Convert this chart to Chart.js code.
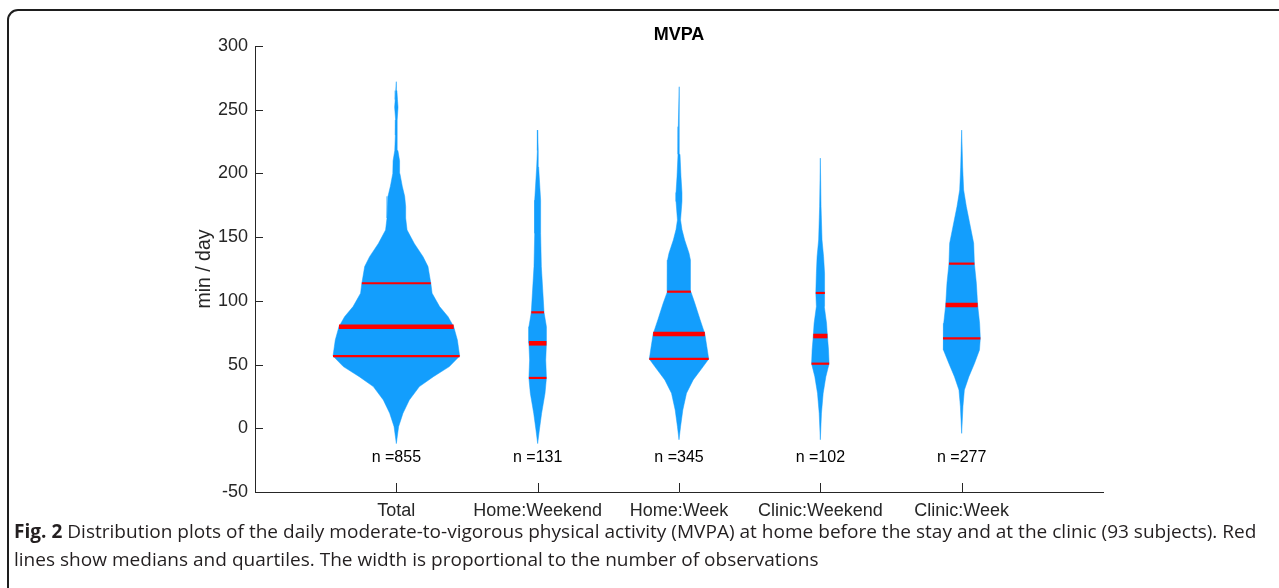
<!DOCTYPE html>
<html><head><meta charset="utf-8">
<script src="https://cdn.jsdelivr.net/npm/chart.js@4.4.1/dist/chart.umd.min.js"></script>
<style>
html,body{margin:0;padding:0;background:#fff;overflow:hidden;width:1279px;height:588px;}
#frame{position:absolute;left:7px;top:9px;width:1320px;height:640px;border:2px solid #1e1e1e;border-radius:11px;box-sizing:border-box;}
#c{position:absolute;left:0;top:0;}
#cap{position:absolute;left:14px;top:517px;font-family:'Open Sans';font-size:19px;line-height:28px;color:#231f20;white-space:nowrap;transform-origin:0 0;}
#cap b{font-weight:700;}
</style></head><body>
<div id="frame"></div>
<canvas id="c" width="1279" height="588"></canvas>
<div id="cap"><div id="l1"><b>Fig. 2</b> Distribution plots of the daily moderate-to-vigorous physical activity (MVPA) at home before the stay and at the clinic (93 subjects). Red</div><div>lines show medians and quartiles. The width is proportional to the number of observations</div></div>
<script>
// ---- data ----
const categories = ['Total', 'Home:Weekend', 'Home:Week', 'Clinic:Weekend', 'Clinic:Week'];
const counts = [855, 131, 345, 102, 277];
const chartTitle = 'MVPA';
const yAxisTitle = 'min / day';
const yTicks = [-50, 0, 50, 100, 150, 200, 250, 300];

// violin profiles: value levels (min/day) and half-widths (x-axis units)
const totalLevels = [-12, 1.3, 11.8, 22.2, 32.7, 40.5, 48.4, 56.7, 69.3, 79.7, 87.6, 95.5, 106, 113.8, 126.9, 134.7, 145, 155.6, 165, 174, 182, 190, 200, 210, 218, 230, 242, 252, 258, 265, 272];
const totalWidths = [0, 0.016, 0.047, 0.092, 0.163, 0.262, 0.375, 0.448, 0.432, 0.406, 0.366, 0.306, 0.253, 0.244, 0.224, 0.189, 0.127, 0.076, 0.066, 0.066, 0.059, 0.042, 0.025, 0.023, 0.011, 0.007, 0.005, 0.012, 0.008, 0.004, 0];

const homeWeekendLevels = [-12, -1.3, 11.8, 27.5, 39.5, 53.6, 66.7, 79.7, 91, 100.7, 126.9, 153, 179, 205, 218, 234];
const homeWeekendWidths = [0, 0.012, 0.028, 0.052, 0.062, 0.057, 0.062, 0.062, 0.045, 0.040, 0.026, 0.021, 0.021, 0.007, 0.004, 0];

const homeWeekLevels = [-9, 1.3, 14.4, 27.5, 37.9, 48.4, 54.4, 64, 74, 85, 98.1, 107.2, 119, 132, 137.4, 147.8, 156, 163.5, 178, 185, 197.5, 215, 236.7, 268];
const homeWeekWidths = [0, 0.011, 0.027, 0.053, 0.100, 0.171, 0.210, 0.197, 0.183, 0.150, 0.112, 0.084, 0.081, 0.081, 0.071, 0.040, 0.021, 0.011, 0.021, 0.021, 0.014, 0.007, 0.005, 0];

const clinicWeekendLevels = [-9, 11.8, 27.5, 40.5, 50.7, 61.5, 72.4, 82.4, 95.5, 106.2, 121.7, 134.7, 147.8, 174, 212];
const clinicWeekendWidths = [0, 0.008, 0.020, 0.039, 0.062, 0.058, 0.050, 0.044, 0.028, 0.032, 0.028, 0.023, 0.012, 0.005, 0];

const clinicWeekLevels = [-4, 17, 30, 40.5, 51, 61.5, 70.6, 82.4, 96.8, 113.8, 129.2, 145.2, 158, 174, 187, 205, 234];
const clinicWeekWidths = [0, 0.009, 0.019, 0.051, 0.091, 0.126, 0.132, 0.127, 0.113, 0.104, 0.090, 0.085, 0.062, 0.033, 0.014, 0.007, 0];

const lowerQuartiles = [56.7, 39.5, 54.4, 50.7, 70.6];
const medians = [79.7, 66.7, 74, 72.4, 96.8];
const upperQuartiles = [113.8, 91, 107.2, 106.2, 129.2];

// ---- build datasets ----
const profiles = [
  [totalLevels, totalWidths],
  [homeWeekendLevels, homeWeekendWidths],
  [homeWeekLevels, homeWeekWidths],
  [clinicWeekendLevels, clinicWeekendWidths],
  [clinicWeekLevels, clinicWeekWidths]
];
const BLUE = '#139efd', RED = '#ff0000', INK = '#262626';
const FONT = "'Liberation Sans', Arial, sans-serif";

function widthAt(levels, widths, v) {
  for (let i = 0; i < levels.length - 1; i++) {
    if (v >= levels[i] && v <= levels[i + 1]) {
      const t = (v - levels[i]) / (levels[i + 1] - levels[i]);
      return widths[i] + t * (widths[i + 1] - widths[i]);
    }
  }
  return 0;
}

const datasets = [];
profiles.forEach(([lv, w], i) => {
  const c = i + 1;
  const pts = [];
  for (let k = 0; k < lv.length; k++) pts.push({x: c + w[k], y: lv[k]});
  for (let k = lv.length - 1; k >= 0; k--) pts.push({x: c - w[k], y: lv[k]});
  datasets.push({
    label: categories[i], data: pts, showLine: true, fill: 'shape',
    backgroundColor: BLUE, borderColor: BLUE, borderWidth: 0.5,
    pointRadius: 0, pointHoverRadius: 0, tension: 0, order: 2
  });
});
profiles.forEach(([lv, w], i) => {
  const c = i + 1;
  [[lowerQuartiles[i], 2.2], [medians[i], 4.6], [upperQuartiles[i], 2.2]].forEach(([q, lw]) => {
    const hw = widthAt(lv, w, q);
    datasets.push({
      label: categories[i] + ' q', data: [{x: c - hw, y: q}, {x: c + hw, y: q}],
      showLine: true, fill: false, borderColor: RED, borderWidth: lw,
      pointRadius: 0, pointHoverRadius: 0, order: 1
    });
  });
});

const decorPlugin = {
  id: 'decor',
  afterDraw(chart) {
    const {ctx, scales: {x, y}, chartArea} = chart;
    ctx.save();
    ctx.strokeStyle = INK; ctx.lineWidth = 1;
    ctx.beginPath();
    yTicks.forEach(v => {
      const py = Math.round(y.getPixelForValue(v)) + 0.5;
      ctx.moveTo(chartArea.left, py); ctx.lineTo(chartArea.left + 8, py);
    });
    categories.forEach((_, i) => {
      const px = Math.round(x.getPixelForValue(i + 1)) + 0.5;
      ctx.moveTo(px, chartArea.bottom); ctx.lineTo(px, chartArea.bottom - 9);
    });
    ctx.stroke();
    ctx.fillStyle = '#000';
    ctx.font = "16px " + FONT;
    ctx.textAlign = 'center'; ctx.textBaseline = 'middle';
    counts.forEach((n, i) => {
      ctx.fillText('n =' + n, x.getPixelForValue(i + 1), y.getPixelForValue(-23));
    });
    ctx.fillStyle = '#000';
    ctx.font = "bold 18px " + FONT;
    ctx.fillText(chartTitle, (chartArea.left + chartArea.right) / 2, 35);
    ctx.restore();
  }
};

new Chart(document.getElementById('c'), {
  type: 'scatter',
  data: {datasets},
  options: {
    responsive: false, animation: false, devicePixelRatio: 1,
    layout: {padding: {left: 189, right: 176, top: 46, bottom: 0}},
    plugins: {legend: {display: false}, tooltip: {enabled: false}, title: {display: false}},
    scales: {
      x: {
        type: 'linear', min: 0, max: 6,
        afterBuildTicks: s => { s.ticks = categories.map((_, i) => ({value: i + 1})); },
        afterFit: s => { s.height = 96; },
        grid: {display: false, drawTicks: false},
        border: {display: true, color: INK, width: 1},
        ticks: {color: INK, font: {family: FONT, size: 18}, padding: 8, maxRotation: 0, autoSkip: false,
          callback: v => categories[v - 1] || ''}
      },
      y: {
        type: 'linear', min: -50, max: 300,
        afterBuildTicks: s => { s.ticks = yTicks.map(v => ({value: v})); },
        afterFit: s => { s.width = 66; },
        grid: {display: false, drawTicks: false},
        border: {display: true, color: INK, width: 1},
        ticks: {color: INK, font: {family: FONT, size: 18}, padding: 7},
        title: {display: true, text: yAxisTitle, color: INK, font: {family: FONT, size: 19.5}, padding: {top: 4, bottom: 4}}
      }
    }
  },
  plugins: [decorPlugin]
});

// fit caption width to the figure
const cap = document.getElementById('cap');
const l1 = document.getElementById('l1');
const w1 = l1.scrollWidth;
cap.style.transform = 'scaleX(' + (1242 / w1) + ')';
</script>
</body></html>
